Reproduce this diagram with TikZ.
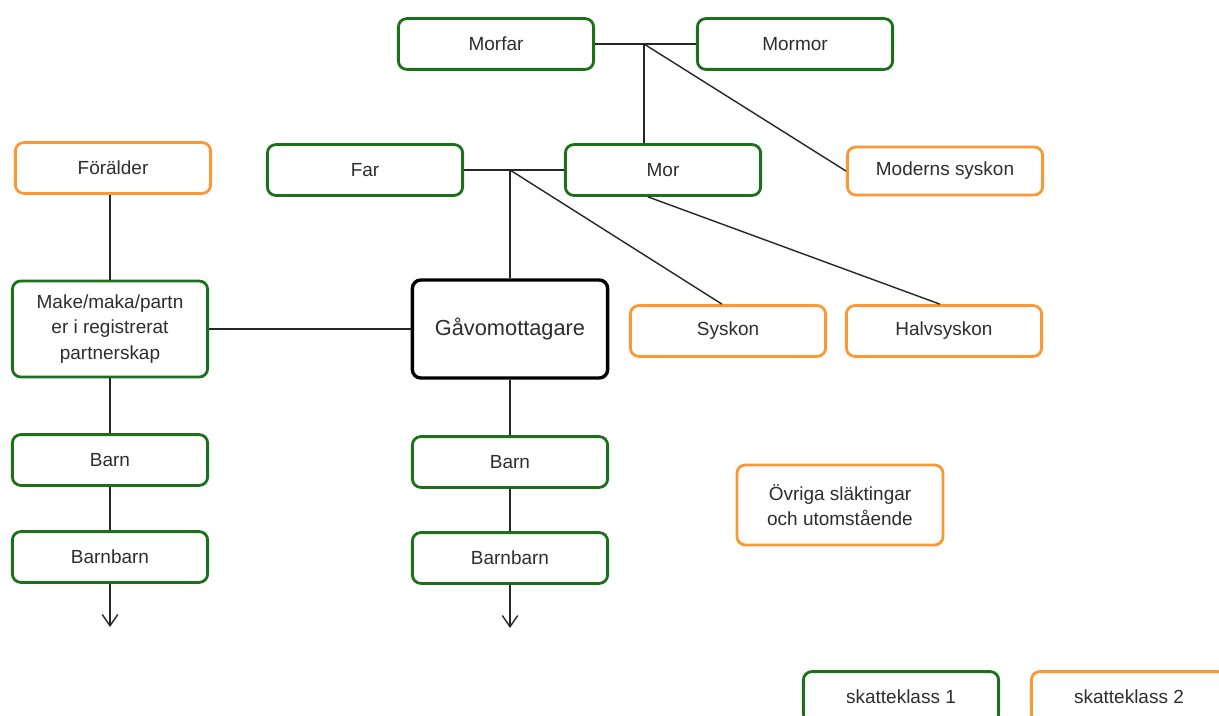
\documentclass[tikz,border=0pt]{standalone}
\usepackage{fontspec}
\setmainfont{Liberation Sans}
\usetikzlibrary{arrows.meta}
\definecolor{kgreen}{RGB}{28,112,28}
\definecolor{korange}{RGB}{250,152,52}
\definecolor{ktext}{RGB}{45,45,45}
\begin{document}
\begin{tikzpicture}[x=0.025cm, y=-0.025cm,
	box/.style={draw, rounded corners=6pt, line width=2pt, fill=white,
		minimum width=4.88cm, minimum height=1.27cm, align=center,
		text=ktext, font=\fontsize{13.5}{18}\selectfont},
	klass1/.style={box, draw=kgreen},
	klass2/.style={box, draw=korange},
	link/.style={line width=1pt, black!85},
	tip/.style={-{Straight Barb[length=8pt,width=11pt]}}]
	\useasboundingbox (0,0) rectangle (1219,716);
	\node[klass1] (morfar) at (496,44) {Morfar};
	\node[klass1] (mormor) at (795,44) {Mormor};
	\node[klass1] (far) at (365,170) {Far};
	\node[klass1] (mor) at (663,170) {Mor};
	\node[klass2, minimum height=1.2cm] (moderns) at (945,171) {Moderns syskon};
	\node[klass2] (foralder) at (113,168) {Förälder};
	\node[klass1, minimum height=2.4cm] (make) at (110,329)
	{Make/maka/partn\\er i registrerat\\partnerskap};
	\node[box, draw=black, line width=2.4pt, minimum height=2.45cm,
	font=\fontsize{15.5}{18}\selectfont] (gavo) at (510,329) {Gåvomottagare};
	\node[klass2] (syskon) at (728,331) {Syskon};
	\node[klass2] (halvsyskon) at (944,331) {Halvsyskon};
	\node[klass1] (barnA) at (110,460) {Barn};
	\node[klass1] (barnbarnA) at (110,557) {Barnbarn};
	\node[klass1] (barnB) at (510,462) {Barn};
	\node[klass1] (barnbarnB) at (510,558) {Barnbarn};
	\node[klass2, minimum width=5.15cm, minimum height=2cm] (ovriga) at (840,505)
	{Övriga släktingar\\och utomstående};
	\node[klass1] (sk1) at (901,697) {skatteklass 1};
	\node[klass2] (sk2) at (1129,697) {skatteklass 2};
	\coordinate (j1) at (644,44);
	\coordinate (j2) at (510,170);
	\coordinate (endA) at (110,627);
	\coordinate (endB) at (510,628);
	\draw[link] (morfar) -- (mormor);
	\draw[link] (j1) -- (j1 |- mor.north);
	\draw[link] (j1) -- (moderns.west);
	\draw[link] (far) -- (mor);
	\draw[link] (j2) -- (gavo.north);
	\draw[link] (j2) -- ([xshift=-0.15cm]syskon.north);
	\draw[link] ([xshift=-0.38cm]mor.south) -- ([xshift=-0.1cm]halvsyskon.north);
	\draw[link] (foralder.south -| make.north) -- (make.north);
	\draw[link] (make) -- (gavo);
	\draw[link] (make) -- (barnA);
	\draw[link] (barnA) -- (barnbarnA);
	\draw[link, tip] (barnbarnA) -- (endA);
	\draw[link] (gavo) -- (barnB);
	\draw[link] (barnB) -- (barnbarnB);
	\draw[link, tip] (barnbarnB) -- (endB);
\end{tikzpicture}
\end{document}
